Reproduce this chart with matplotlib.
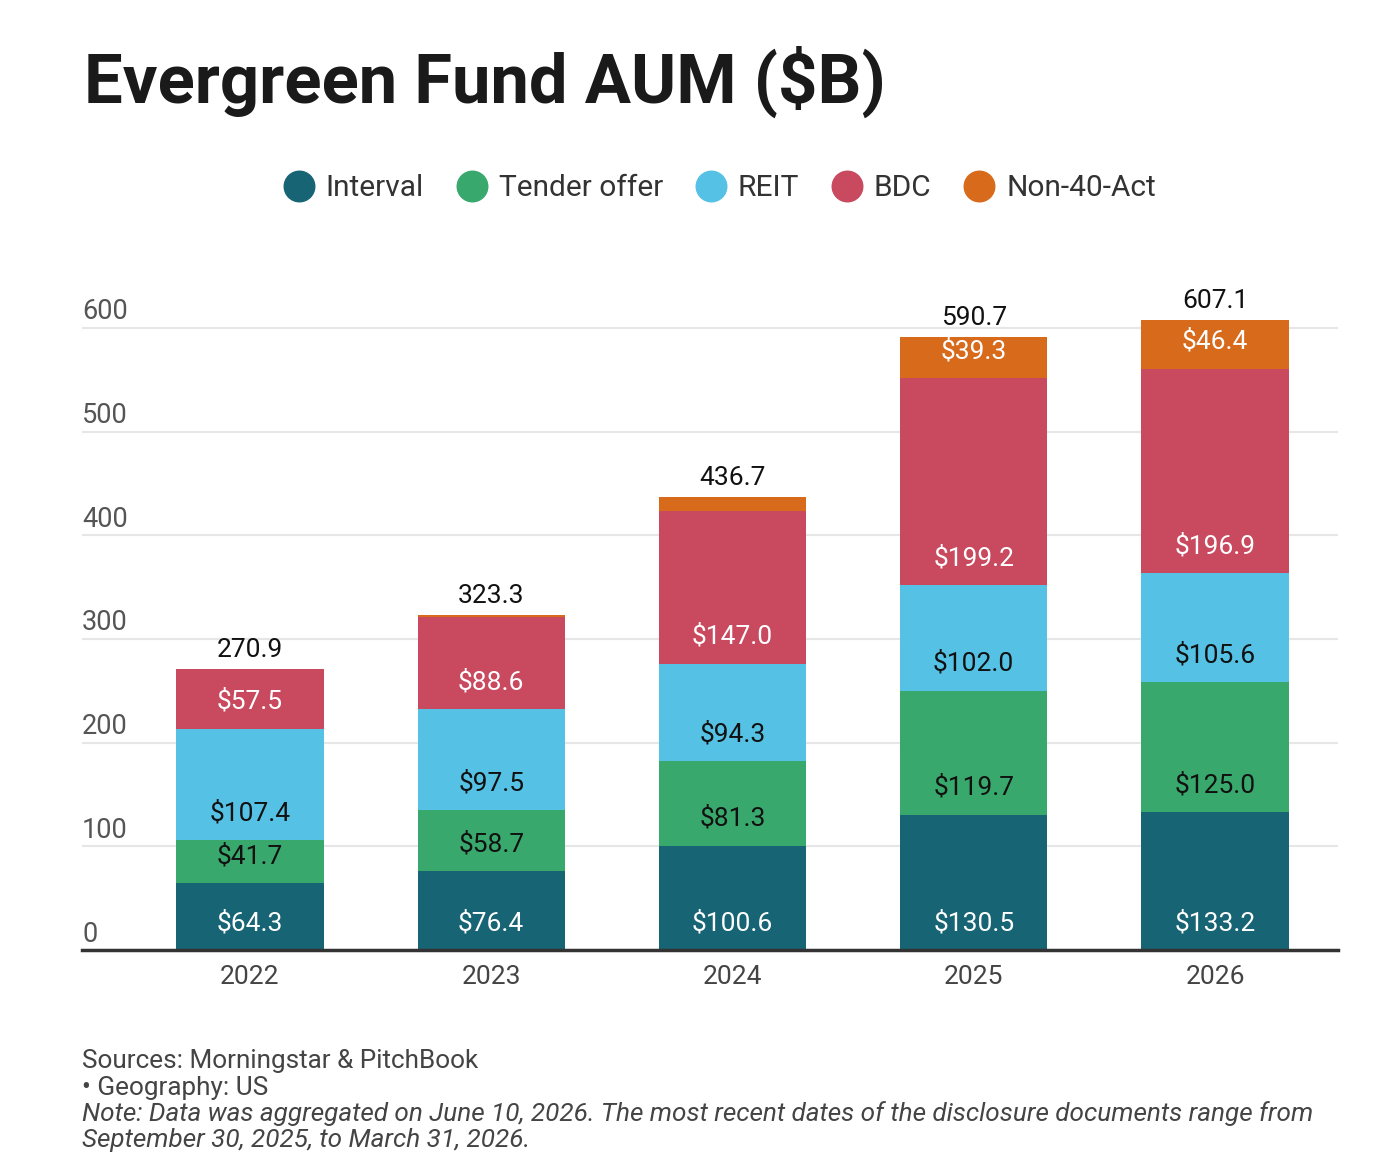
import matplotlib
matplotlib.use("Agg")
import matplotlib.pyplot as plt
import numpy as np
from matplotlib.lines import Line2D
from matplotlib.transforms import blended_transform_factory

years = ["2022", "2023", "2024", "2025", "2026"]
series = ["Interval", "Tender offer", "REIT", "BDC", "Non-40-Act"]
interval = [64.3, 76.4, 100.6, 130.5, 133.2]
tender = [41.7, 58.7, 81.3, 119.7, 125.0]
reit = [107.4, 97.5, 94.3, 102.0, 105.6]
bdc = [57.5, 88.6, 147.0, 199.2, 196.9]
non40 = [0.0, 2.1, 13.5, 39.3, 46.4]
totals = [270.9, 323.3, 436.7, 590.7, 607.1]
yticks = [0, 100, 200, 300, 400, 500, 600]

colors = ["#176474", "#39a86d", "#55c2e5", "#c9495f", "#d86a1b"]
label_colors = ["white", "#111111", "#111111", "white", "white"]

plt.rcParams["font.family"] = ["Roboto", "DejaVu Sans"]

fig = plt.figure(figsize=(13.79, 11.64), dpi=100)
ax = fig.add_axes([0.0595, 0.1838, 0.9108, 0.5524])

x = np.arange(len(years))
width = 0.61
bottom = np.zeros(len(years))
for vals, col, lcol in zip([interval, tender, reit, bdc, non40], colors, label_colors):
    vals = np.array(vals)
    ax.bar(x, vals, width, bottom=bottom, color=col, zorder=2)
    for xi, v, b in zip(x, vals, bottom):
        if v >= 20:
            ax.annotate(f"${v:.1f}", (xi, b), xytext=(0, 27), textcoords="offset pixels",
                        ha="center", va="center", fontsize=19, color=lcol, zorder=3)
    bottom += vals

for xi, t in zip(x, totals):
    ax.annotate(f"{t:.1f}", (xi, t), xytext=(0, 19), textcoords="offset pixels",
                ha="center", va="center", fontsize=19, color="#111111")

ax.set_xlim(-0.696, 4.51)
ax.set_ylim(0, 620)
ax.set_yticks(yticks)
ax.set_yticklabels([])
ax.tick_params(axis="y", length=0)
ax.grid(axis="y", color="#e6e6e6", linewidth=1.5, zorder=0)
ax.set_xticks(x)
ax.set_xticklabels(years, fontsize=19, color="#444444")
ax.tick_params(axis="x", length=0, pad=11)
for s in ["top", "right", "left"]:
    ax.spines[s].set_visible(False)
ax.spines["bottom"].set_color("#333333")
ax.spines["bottom"].set_linewidth(2.5)
ax.spines["bottom"].set_zorder(4)

trans = blended_transform_factory(ax.transAxes, ax.transData)
for t in yticks:
    ax.annotate(str(t), (0, t), xycoords=trans, xytext=(0, 16), textcoords="offset pixels",
                ha="left", va="center", fontsize=19.5, color="#555555")

fig.text(0.061, 0.930, "Evergreen Fund AUM ($B)", fontsize=49.5, fontweight="bold",
         color="#1a1a1a", ha="left", va="center")

handles = [Line2D([], [], marker="o", linestyle="", markersize=22, markerfacecolor=c,
                  markeredgecolor=c) for c in colors]
fig.legend(handles, series, loc="center", bbox_to_anchor=(0.521, 0.8385), ncol=5,
           frameon=False, fontsize=21.5, labelcolor="#333333", handletextpad=0.3,
           columnspacing=1.0, handlelength=1.2)

foot = "#444444"
fs = 18.8
fig.text(0.0595, 1 - 1061 / 1164, "Sources: Morningstar & PitchBook", fontsize=fs,
         color=foot, va="center")
fig.text(0.0595, 1 - 1088 / 1164, "• Geography: US", fontsize=fs, color=foot, va="center")
fig.text(0.0595, 1 - 1114 / 1164,
         "Note: Data was aggregated on June 10, 2026. The most recent dates of the disclosure documents range from",
         fontsize=fs, color=foot, va="center", style="italic")
fig.text(0.0595, 1 - 1140 / 1164, "September 30, 2025, to March 31, 2026.", fontsize=fs,
         color=foot, va="center", style="italic")

fig.savefig("out.png", dpi=100, facecolor="white")
